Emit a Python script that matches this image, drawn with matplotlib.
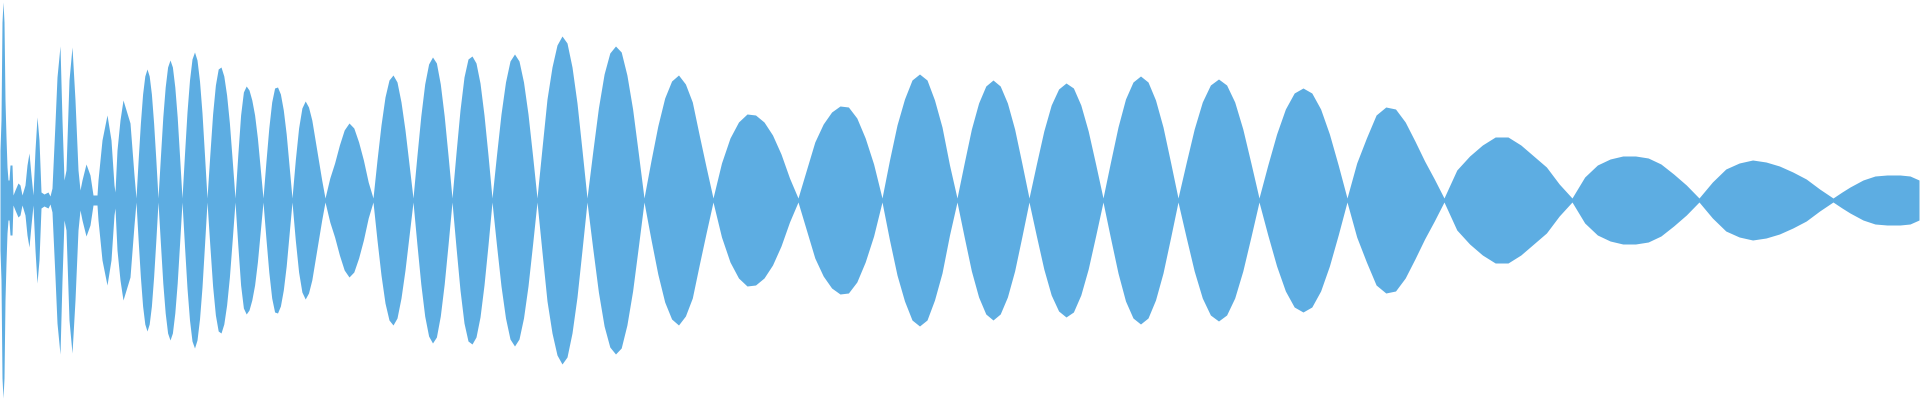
import matplotlib
matplotlib.use("Agg")
import matplotlib.pyplot as plt
import numpy as np

# ragged start of the waveform: x (px) and half height (px)
head_x = [0, 1, 2, 3, 4, 5, 6, 7, 8, 9, 10, 12, 13, 15, 18, 20, 22, 25, 27, 29, 31, 33,
          35, 37, 39, 41, 44, 48, 50, 52, 55, 57, 60, 62, 64, 66, 69, 72, 75, 78, 80,
          82, 86, 90, 93, 97, 98, 102, 107, 111, 114,
          115, 117, 120, 123, 130, 134]
head_a = [50, 80, 178, 198, 178, 100, 63, 33, 20, 20, 35, 35, 5, 10, 17, 15, 5, 15, 35, 47, 25, 5,
          50, 83, 60, 8, 6, 8, 4, 12, 77, 123, 154, 80, 20, 30, 120, 153, 100, 30, 10,
          20, 36, 25, 5, 5, 20, 60, 85, 60, 15,
          8, 50, 80, 100, 77, 25]

# zero crossings of the envelope (px)
nodes = [136, 158, 182, 207, 235, 263, 292, 325, 373, 413, 452, 492, 537, 587, 644,
         713, 798, 882, 957, 1029, 1103, 1178, 1259, 1347, 1444, 1572, 1699, 1833]
node_a = 2

# half height of each lobe at 10%, 20% ... 90% of the way between two nodes
lobes = [
    [41, 77, 106, 124, 131, 124, 106, 77, 41],
    [43, 83, 113, 133, 140, 133, 113, 83, 43],
    [46, 88, 120, 141, 148, 140, 119, 87, 45],
    [45, 86, 115, 131, 133, 124, 105, 77, 40],
    [45, 85, 108, 114, 110, 100, 85, 62, 32],
    [38, 72, 98, 112, 113, 106, 90, 66, 34],
    [40, 72, 92, 99, 93, 80, 60, 40, 20],
    [22, 37, 55, 70, 77, 72, 58, 40, 18],
    [40, 75, 103, 120, 125, 118, 98, 70, 36],
    [44, 84, 116, 136, 143, 137, 116, 84, 44],
    [47, 90, 123, 141, 144, 137, 117, 85, 45],
    [45, 86, 118, 139, 146, 139, 118, 86, 45],
    [52, 101, 133, 155, 164, 157, 133, 97, 50],
    [48, 92, 126, 147, 154, 148, 125, 91, 47],
    [39, 74, 102, 119, 125, 116, 98, 65, 33],
    [37, 62, 78, 86, 85, 78, 65, 46, 22],
    [30, 58, 76, 88, 94, 93, 82, 62, 36],
    [40, 75, 101, 120, 126, 120, 100, 73, 35],
    [37, 71, 97, 114, 120, 114, 97, 71, 37],
    [36, 69, 95, 111, 117, 112, 95, 69, 36],
    [38, 73, 101, 118, 124, 118, 100, 73, 38],
    [37, 71, 98, 115, 121, 115, 98, 71, 37],
    [35, 66, 91, 107, 112, 107, 91, 66, 35],
    [37, 62, 85, 93, 91, 78, 59, 39, 21],
    [30, 44, 55, 63, 63, 55, 44, 33, 16],
    [23, 35, 41, 44, 44, 42, 36, 26, 15],
    [18, 31, 37, 40, 38, 34, 28, 21, 11],
]

# tail after the last zero crossing, cut off at the right edge
tail_x = [1842, 1850, 1863, 1875, 1887, 1900, 1910, 1919]
tail_a = [8, 13, 20, 24, 25, 25, 24, 20]

# put the envelope together
xs = list(head_x)
amps = list(head_a)
for i, vals in enumerate(lobes):
    pos = np.linspace(nodes[i], nodes[i + 1], len(vals) + 2)
    xs.append(nodes[i])
    amps.append(node_a)
    xs.extend(pos[1:-1])
    amps.extend(vals)
xs.append(nodes[-1])
amps.append(node_a)
xs.extend(tail_x)
amps.extend(tail_a)

xs = np.array(xs, dtype=float)
amps = np.array(amps, dtype=float)

fig = plt.figure(figsize=(19.2, 4), dpi=100)
ax = fig.add_axes([0, 0, 1, 1])
ax.fill_between(xs, -amps, amps, color='#5DADE2', linewidth=0)
ax.set_xlim(0, 1920)
ax.set_ylim(-200, 200)
ax.axis('off')
fig.savefig('out.png', dpi=100, facecolor='white')
